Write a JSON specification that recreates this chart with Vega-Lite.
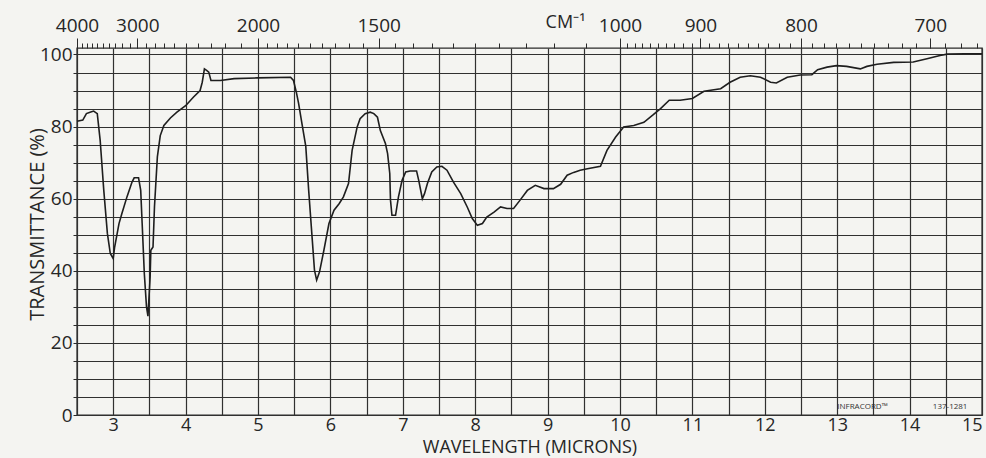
{
  "$schema": "https://vega.github.io/schema/vega-lite/v6.json",
  "width": 905,
  "height": 367,
  "autosize": {"type": "none"},
  "padding": {"left": 77, "top": 48, "right": 4, "bottom": 43},
  "background": "#f4f4f1",
  "config": {
    "view": {"stroke": "#2a2a2a", "strokeWidth": 1.4},
    "font": "Open Sans",
    "axis": {"labelFont": "Open Sans", "titleFont": "Open Sans", "labelColor": "#262626", "titleColor": "#262626", "titleFontWeight": "normal", "tickColor": "#2a2a2a", "gridColor": "#303030", "gridOpacity": 1, "gridWidth": 1.2}
  },
  "layer": [
    {
      "data": {"values": [
        {"um": 2.50, "T": 81.5}, {"um": 2.58, "T": 81.8}, {"um": 2.63, "T": 83.6}, {"um": 2.68, "T": 84.0}, {"um": 2.73, "T": 84.3}, {"um": 2.78, "T": 83.6}, {"um": 2.82, "T": 76.2}, {"um": 2.87, "T": 62.3}, {"um": 2.92, "T": 50.3}, {"um": 2.96, "T": 44.8}, {"um": 3.00, "T": 43.4}, {"um": 3.02, "T": 46.6}, {"um": 3.08, "T": 53.1}, {"um": 3.12, "T": 55.9}, {"um": 3.19, "T": 60.5}, {"um": 3.26, "T": 64.6}, {"um": 3.29, "T": 65.8}, {"um": 3.35, "T": 65.8}, {"um": 3.38, "T": 62.3}, {"um": 3.40, "T": 53.1}, {"um": 3.43, "T": 39.2}, {"um": 3.46, "T": 30.0}, {"um": 3.48, "T": 27.4}, {"um": 3.51, "T": 38.3}, {"um": 3.52, "T": 45.7}, {"um": 3.55, "T": 46.6}, {"um": 3.57, "T": 57.7}, {"um": 3.61, "T": 71.6}, {"um": 3.65, "T": 77.5}, {"um": 3.70, "T": 80.3}, {"um": 3.79, "T": 82.4}, {"um": 3.88, "T": 84.0}, {"um": 4.00, "T": 85.8}, {"um": 4.11, "T": 88.2}, {"um": 4.20, "T": 90.0}, {"um": 4.23, "T": 92.3}, {"um": 4.26, "T": 96.0}, {"um": 4.29, "T": 95.6}, {"um": 4.32, "T": 95.1}, {"um": 4.35, "T": 92.8}, {"um": 4.48, "T": 92.8}, {"um": 4.67, "T": 93.3}, {"um": 4.99, "T": 93.5}, {"um": 5.45, "T": 93.7}, {"um": 5.49, "T": 92.8}, {"um": 5.53, "T": 89.5}, {"um": 5.56, "T": 86.5}, {"um": 5.61, "T": 80.5}, {"um": 5.66, "T": 74.5}, {"um": 5.70, "T": 62.3}, {"um": 5.75, "T": 48.5}, {"um": 5.78, "T": 40.2}, {"um": 5.81, "T": 37.4}, {"um": 5.85, "T": 39.7}, {"um": 5.91, "T": 45.7}, {"um": 5.98, "T": 53.1}, {"um": 6.05, "T": 56.8}, {"um": 6.12, "T": 58.6}, {"um": 6.18, "T": 60.5}, {"um": 6.25, "T": 64.2}, {"um": 6.30, "T": 73.4}, {"um": 6.37, "T": 79.9}, {"um": 6.41, "T": 82.2}, {"um": 6.48, "T": 83.6}, {"um": 6.55, "T": 84.0}, {"um": 6.60, "T": 83.6}, {"um": 6.65, "T": 82.6}, {"um": 6.69, "T": 78.9}, {"um": 6.76, "T": 75.3}, {"um": 6.79, "T": 72.5}, {"um": 6.82, "T": 67.0}, {"um": 6.83, "T": 59.6}, {"um": 6.85, "T": 55.4}, {"um": 6.90, "T": 55.4}, {"um": 6.94, "T": 60.5}, {"um": 6.99, "T": 65.1}, {"um": 7.04, "T": 67.4}, {"um": 7.10, "T": 67.7}, {"um": 7.19, "T": 67.7}, {"um": 7.22, "T": 65.1}, {"um": 7.27, "T": 60.0}, {"um": 7.30, "T": 61.4}, {"um": 7.34, "T": 64.2}, {"um": 7.40, "T": 67.4}, {"um": 7.47, "T": 68.8}, {"um": 7.54, "T": 69.0}, {"um": 7.61, "T": 67.9}, {"um": 7.70, "T": 64.6}, {"um": 7.80, "T": 61.4}, {"um": 7.89, "T": 57.7}, {"um": 7.96, "T": 54.5}, {"um": 8.03, "T": 52.6}, {"um": 8.10, "T": 53.1}, {"um": 8.16, "T": 54.9}, {"um": 8.26, "T": 56.3}, {"um": 8.35, "T": 57.7}, {"um": 8.44, "T": 57.3}, {"um": 8.53, "T": 57.3}, {"um": 8.62, "T": 59.6}, {"um": 8.72, "T": 62.3}, {"um": 8.83, "T": 63.7}, {"um": 8.95, "T": 62.8}, {"um": 9.08, "T": 62.8}, {"um": 9.18, "T": 64.0}, {"um": 9.27, "T": 66.5}, {"um": 9.36, "T": 67.3}, {"um": 9.45, "T": 67.9}, {"um": 9.55, "T": 68.3}, {"um": 9.73, "T": 69.0}, {"um": 9.82, "T": 73.4}, {"um": 9.94, "T": 77.1}, {"um": 10.05, "T": 79.9}, {"um": 10.19, "T": 80.3}, {"um": 10.33, "T": 81.2}, {"um": 10.46, "T": 83.3}, {"um": 10.56, "T": 85.0}, {"um": 10.68, "T": 87.3}, {"um": 10.83, "T": 87.3}, {"um": 11.00, "T": 87.8}, {"um": 11.16, "T": 89.8}, {"um": 11.39, "T": 90.5}, {"um": 11.52, "T": 92.3}, {"um": 11.66, "T": 93.7}, {"um": 11.80, "T": 94.1}, {"um": 11.94, "T": 93.7}, {"um": 12.08, "T": 92.3}, {"um": 12.16, "T": 92.1}, {"um": 12.31, "T": 93.7}, {"um": 12.49, "T": 94.3}, {"um": 12.65, "T": 94.4}, {"um": 12.73, "T": 95.8}, {"um": 12.86, "T": 96.5}, {"um": 12.99, "T": 96.9}, {"um": 13.13, "T": 96.7}, {"um": 13.32, "T": 96.0}, {"um": 13.41, "T": 96.7}, {"um": 13.55, "T": 97.3}, {"um": 13.78, "T": 97.8}, {"um": 14.05, "T": 97.9}, {"um": 14.24, "T": 98.8}, {"um": 14.42, "T": 99.7}, {"um": 14.52, "T": 100.1}, {"um": 14.75, "T": 100.2}, {"um": 15.00, "T": 100.2}
      ]},
      "mark": {"type": "line", "color": "#1e1e1e", "strokeWidth": 1.6},
      "encoding": {
        "x": {"field": "um", "type": "quantitative", "scale": {"domain": [2.5, 15], "nice": false, "zero": false},
          "axis": {"orient": "bottom", "values": [2.5, 3, 3.5, 4, 4.5, 5, 5.5, 6, 6.5, 7, 7.5, 8, 8.5, 9, 9.5, 10, 10.5, 11, 11.5, 12, 12.5, 13, 13.5, 14, 14.5, 15],
            "grid": true, "ticks": false, "domain": false, "labelFontSize": 18, "labelPadding": 1, "labelFlush": true, "labelOverlap": false,
            "labelExpr": "datum.value % 1 === 0 ? format(datum.value, 'd') : ''",
            "title": "WAVELENGTH (MICRONS)", "titleFontSize": 18, "titleY": 32, "titleBaseline": "middle"}},
        "y": {"field": "T", "type": "quantitative", "scale": {"domain": [0, 101.8], "nice": false, "zero": false},
          "axis": {"orient": "left", "values": [0, 5, 10, 15, 20, 25, 30, 35, 40, 45, 50, 55, 60, 65, 70, 75, 80, 85, 90, 95, 100],
            "grid": true, "ticks": true, "tickSize": 4, "domain": false, "labelFontSize": 19, "labelPadding": 1, "labelOverlap": false, "labelFlush": false,
            "labelExpr": "datum.value % 20 === 0 ? format(datum.value, 'd') : ''",
            "title": "TRANSMITTANCE (%)", "titleFontSize": 20, "titleX": -40, "titleY": 176, "titleBaseline": "middle"}}
      }
    },
    {
      "data": {"values": [{"um": 13.35, "T": 2.2, "t": "INFRACORD™"}]},
      "mark": {"type": "text", "fontSize": 8, "color": "#333", "font": "Open Sans"},
      "encoding": {
        "x": {"field": "um", "type": "quantitative", "scale": {"domain": [2.5, 15], "nice": false, "zero": false},
          "axis": {"orient": "top", "values": [2.5, 2.5641, 2.6316, 2.7027, 2.7778, 2.8571, 2.9412, 3.0303, 3.125, 3.2258, 3.3333, 3.4483, 3.5714, 3.7037, 3.8462, 4.0, 4.1667, 4.3478, 4.5455, 4.7619, 5.0, 5.1282, 5.2632, 5.4054, 5.5556, 5.7143, 5.8824, 6.0606, 6.25, 6.4516, 6.6667, 6.8966, 7.1429, 7.4074, 7.6923, 8.0, 8.3333, 8.6957, 9.0909, 9.5238, 10.0, 10.101, 10.2041, 10.3093, 10.4167, 10.5263, 10.6383, 10.7527, 10.8696, 10.989, 11.1111, 11.236, 11.3636, 11.4943, 11.6279, 11.7647, 11.9048, 12.0482, 12.1951, 12.3457, 12.5, 12.6582, 12.8205, 12.987, 13.1579, 13.3333, 13.5135, 13.6986, 13.8889, 14.0845, 14.2857, 14.4928, 14.7059, 14.9254],
            "labels": false, "ticks": true, "tickSize": 5, "grid": false, "domain": false, "title": null}},
        "y": {"field": "T", "type": "quantitative", "scale": {"domain": [0, 101.8], "nice": false, "zero": false}, "axis": null},
        "text": {"field": "t"}
      }
    },
    {
      "data": {"values": [{"um": 14.56, "T": 2.2, "t": "137-1281"}]},
      "mark": {"type": "text", "fontSize": 8, "color": "#333", "font": "Open Sans"},
      "encoding": {
        "x": {"field": "um", "type": "quantitative", "scale": {"domain": [2.5, 15], "nice": false, "zero": false},
          "axis": {"orient": "top", "values": [2.5, 3.3333, 5.0, 6.6667, 10.0, 11.1111, 12.5, 14.2857],
            "labels": true, "ticks": true, "tickSize": 10, "labelPadding": 3, "grid": false, "domain": false, "labelFontSize": 19, "labelFlush": false, "labelOverlap": false,
            "labelExpr": "format(10000 / datum.value, '.0f')",
            "title": "CM⁻¹", "titleFontSize": 18, "titleX": 488, "titleY": -26, "titleBaseline": "middle"}},
        "y": {"field": "T", "type": "quantitative", "scale": {"domain": [0, 101.8], "nice": false, "zero": false}, "axis": null},
        "text": {"field": "t"}
      }
    }
  ],
  "resolve": {"axis": {"x": "independent", "y": "independent"}}
}
